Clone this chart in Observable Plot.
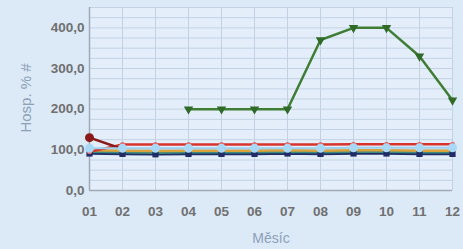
<!DOCTYPE html>
<html>
<head>
<meta charset="utf-8">
<script src="https://cdn.jsdelivr.net/npm/d3@7"></script>
<script src="https://cdn.jsdelivr.net/npm/@observablehq/plot@0.6"></script>
<style>
  html, body { margin: 0; padding: 0; background: #dce9f7; }
  #chart { width: 463px; height: 249px; }
</style>
</head>
<body>
<div id="chart"></div>
<script>
const months = ["01","02","03","04","05","06","07","08","09","10","11","12"];
const yTicks = [0, 100, 200, 300, 400];

const greenVals   = [null, null, null, 200, 200, 200, 200, 370, 400, 400, 330, 222];
const redVals     = [95, 113, 113, 113, 113, 113, 113, 113, 114, 114, 114, 114];
const darkRedVals = [130, 102, null, null, null, null, null, null, null, null, null, null];
const orangeVals  = [99, 98, 97, 98, 98, 98, 99, 98, 99, 99, 98, 98];
const tealVals    = [95, 94, 93, 94, 94, 94, 95, 94, 95, 95, 94, 94];
const blueVals    = [104, 104, 104, 104, 104, 104, 104, 104, 105, 105, 105, 105];
const navyVals    = [91, 90, 89, 90, 90, 90, 91, 90, 91, 91, 90, 90];

const toRows = vals => months.map((m, i) => ({m, v: vals[i]})).filter(d => d.v != null);

const fmt = d => d.toFixed(1).replace(".", ",");

const chart = Plot.plot({
  width: 463,
  height: 249,
  marginLeft: 89,
  marginRight: 11,
  marginTop: 7,
  marginBottom: 59,
  style: { background: "#dce9f7", fontFamily: "Liberation Sans, Arial, sans-serif" },
  x: { type: "point", domain: months, padding: 0, label: null },
  y: { domain: [0, 450], label: null },
  marks: [
    Plot.frame({ fill: "#e3eefa", stroke: null }),
    Plot.gridY({ interval: 25, stroke: "#c3d2e3", strokeOpacity: 1 }),
    Plot.gridX({ stroke: "#c3d2e3", strokeOpacity: 1 }),
    Plot.axisY({ ticks: yTicks, tickFormat: fmt, tickSize: 0, tickPadding: 5, fontSize: 13.5, fontWeight: "bold", fill: "#707070", label: null }),
    Plot.axisX({ tickSize: 0, tickPadding: 16, fontSize: 13.5, fontWeight: "bold", fill: "#707070", label: null }),
    Plot.text(["Hosp. % #"], { frameAnchor: "left", textAnchor: "middle", dx: -63, rotate: -90, fontSize: 15, fill: "#8ca0b8", dy: -1 }),
    Plot.text(["Měsíc"], { frameAnchor: "bottom", dy: 52, fontSize: 14, fill: "#8ca0b8" }),
    Plot.ruleX([months[0]], { stroke: "#a0abb8", strokeWidth: 1.5 }),
    Plot.ruleY([0], { stroke: "#a0abb8", strokeWidth: 1.5 }),
    // low series
    Plot.line(toRows(navyVals), { x: "m", y: "v", stroke: "#1f2c66", strokeWidth: 2.5 }),
    Plot.line(toRows(tealVals), { x: "m", y: "v", stroke: "#3a8a80", strokeWidth: 2.5 }),
    Plot.line(toRows(orangeVals), { x: "m", y: "v", stroke: "#d9a23a", strokeWidth: 2.5 }),
    Plot.line(toRows(redVals), { x: "m", y: "v", stroke: "#d9342b", strokeWidth: 2.5 }),
    Plot.line(toRows(darkRedVals), { x: "m", y: "v", stroke: "#8b1a1a", strokeWidth: 2.5 }),
    Plot.line(toRows(blueVals), { x: "m", y: "v", stroke: "#9cd0f0", strokeWidth: 2 }),
    Plot.dot(toRows(navyVals), { x: "m", y: "v", symbol: "square", r: 3.5, fill: "#1f2c66" }),
    Plot.dot(toRows(redVals), { x: "m", y: "v", r: 2.5, fill: "#e06a6a" }),
    Plot.dot(toRows(darkRedVals).slice(0, 1), { x: "m", y: "v", r: 4.5, fill: "#8b1a1a" }),
    Plot.dot(toRows(blueVals), { x: "m", y: "v", r: 4.5, fill: "#a8d8f5" }),
    // green
    Plot.line(toRows(greenVals), { x: "m", y: "v", stroke: "#3f7d35", strokeWidth: 2.5 }),
    Plot.dot(toRows(greenVals), { x: "m", y: "v", symbol: "triangle", rotate: 180, r: 3.5, fill: "#2f6a28" })
  ]
});
document.getElementById("chart").appendChild(chart);
</script>
</body>
</html>
